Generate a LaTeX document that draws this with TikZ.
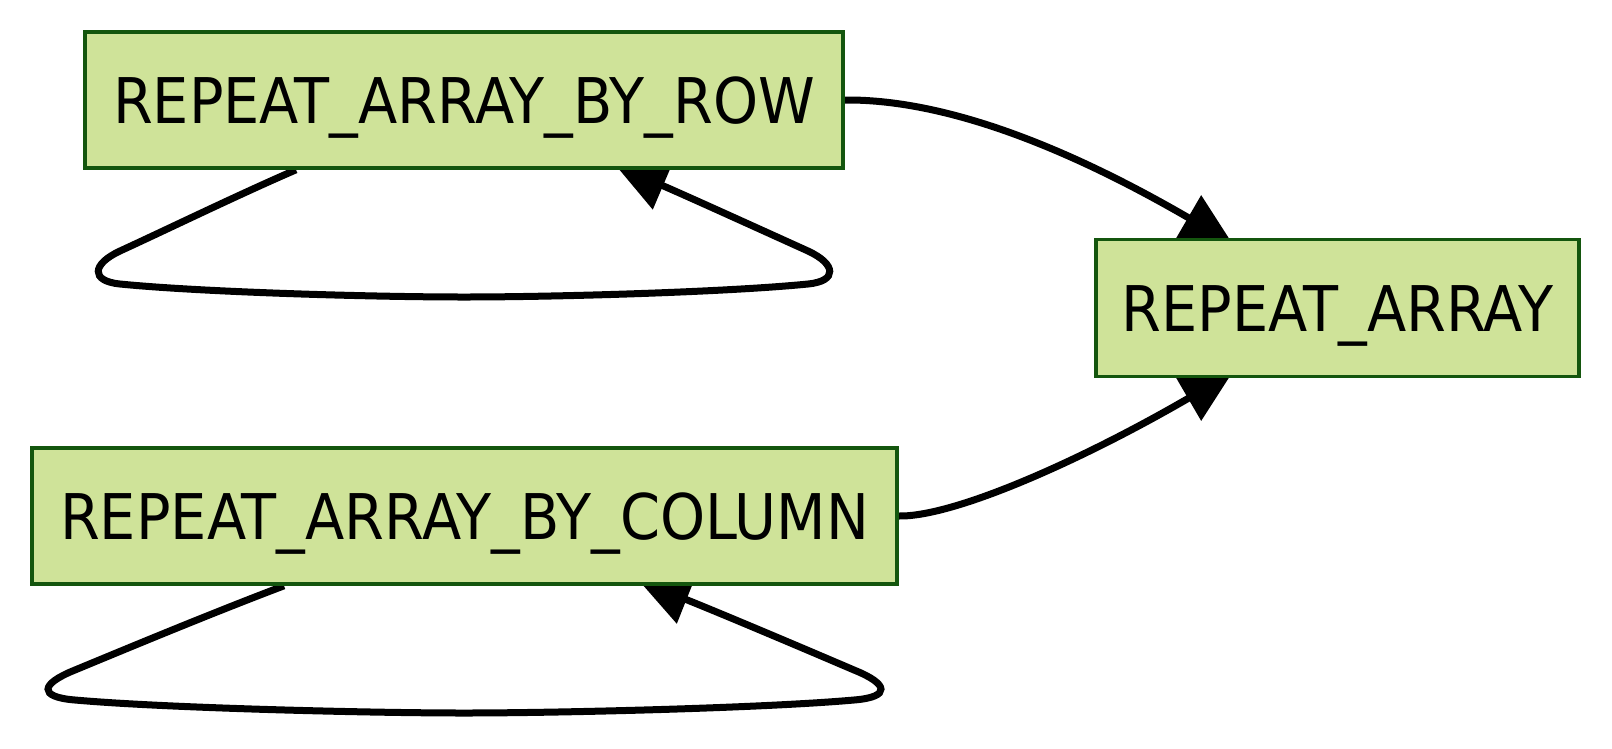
\documentclass[tikz,border=0pt]{standalone}
\usepackage{fontspec}
\setmainfont{DejaVu Sans}[FakeStretch=0.91]
\usetikzlibrary{arrows.meta,calc,backgrounds}
\definecolor{boxfill}{RGB}{207,227,153}
\definecolor{boxline}{RGB}{20,86,14}
\tikzset{
  fnbox/.style={draw=boxline, fill=boxfill, line width=3.6pt, rectangle, inner sep=0pt,
    minimum height=136pt, text height=46pt, text depth=0pt,
    font=\fontsize{63}{70}\selectfont},
  edgeline/.style={draw=black, line width=7pt, -{Triangle[length=51pt,width=50pt]}},
}
\begin{document}
\begin{tikzpicture}[x=1pt,y=-1pt]
\useasboundingbox (0,0) rectangle (1612,748);
\node[fnbox, minimum width=758pt] (row) at (464,100) {REPEAT\_ARRAY\_BY\_ROW};
\node[fnbox, minimum width=483pt, minimum height=137pt] (rep) at (1337.5,308) {REPEAT\_ARRAY};
\node[fnbox, minimum width=865pt] (col) at (464.5,516) {REPEAT\_ARRAY\_BY\_COLUMN};
\begin{pgfonlayer}{background}
\fill[white] (0,0) rectangle (1612,748);
\draw[edgeline] (row.east) .. controls (955,99) and (1084,157) .. ($(rep.north west)+(138,5.5)$);
\draw[edgeline] (col.east) .. controls (955,517) and (1084,459) .. ($(rep.south west)+(138,-5.5)$);
\draw[edgeline] ($(row.south)+(-168,0)$)
   .. controls (240,194) and (170,228) .. (120,251)
   .. controls (92,264) and (90,281) .. (120,284)
   .. controls (200,292) and (370,297) .. (464,297)
   .. controls (558,297) and (728,292) .. (808,284)
   .. controls (838,281) and (836,264) .. (808,251)
   .. controls (744,222) and (680,193) .. ($(row.south)+(152,-4)$);
\draw[edgeline] ($(col.south)+(-180.5,0)$)
   .. controls (215,612) and (145,641) .. (75,670)
   .. controls (40,684) and (38,697) .. (75,700)
   .. controls (165,708) and (370,713) .. (464,713)
   .. controls (559,713) and (764,708) .. (854,700)
   .. controls (891,697) and (889,684) .. (854,670)
   .. controls (784,640) and (710,609) .. ($(col.south)+(174.5,-5)$);
\end{pgfonlayer}
\end{tikzpicture}
\end{document}
